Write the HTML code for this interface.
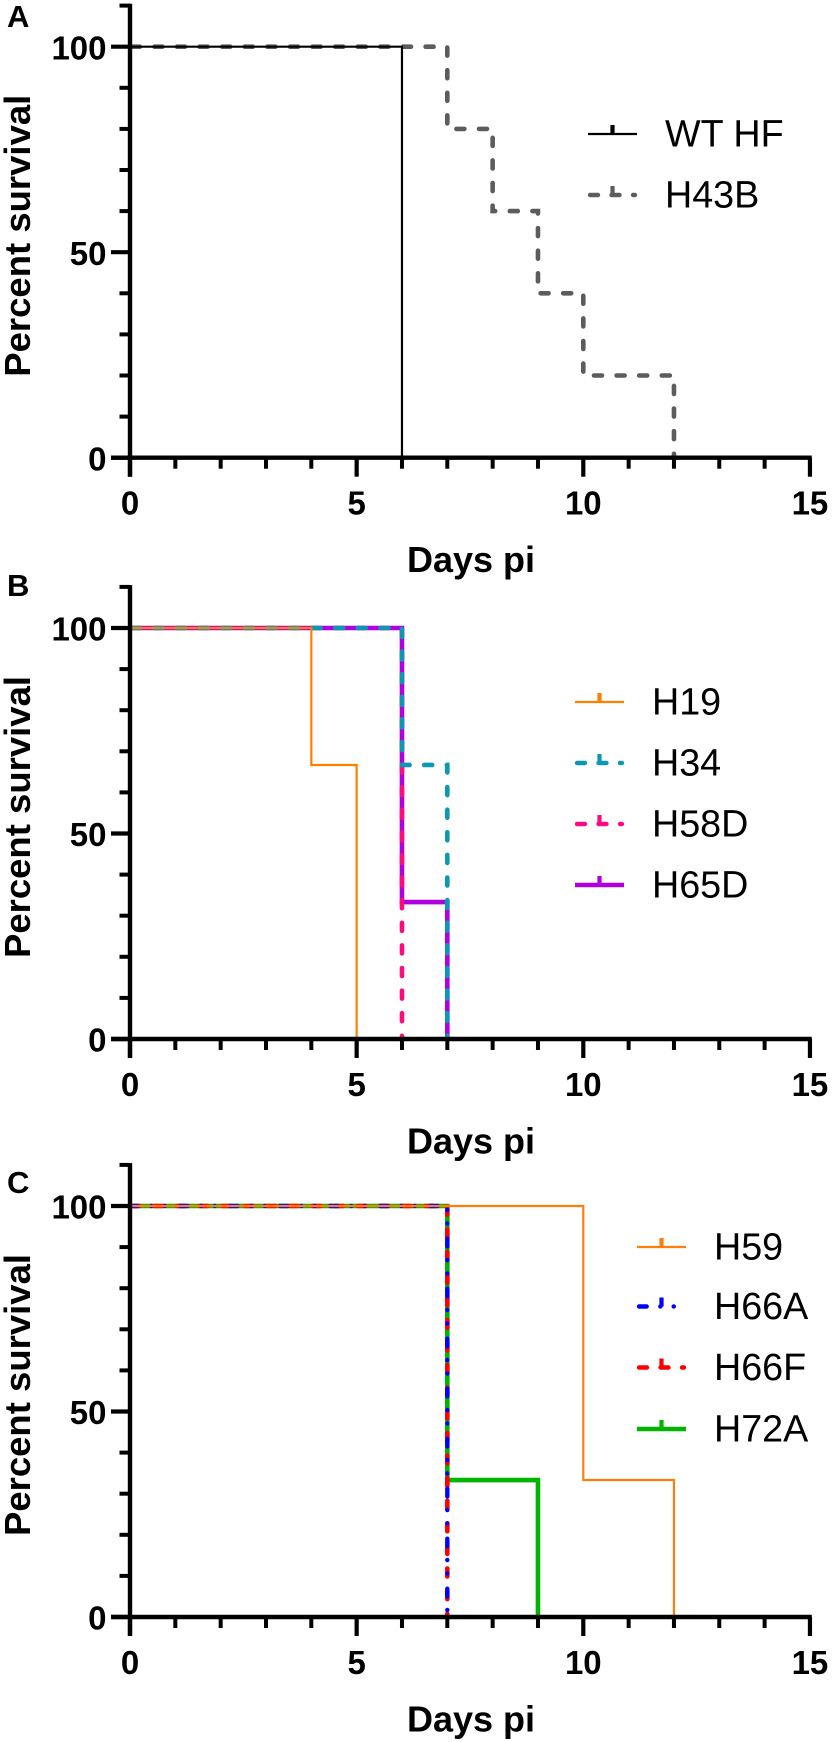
<!DOCTYPE html>
<html lang="en">
<head>
<meta charset="utf-8">
<title>Percent survival by days post infection</title>
<style>
html,body{margin:0;padding:0;background:#fff;}
svg{display:block;font-family:"Liberation Sans",Arial,sans-serif;}
</style>
</head>
<body>
<svg id="chart" xmlns="http://www.w3.org/2000/svg" width="832" height="1742" viewBox="0 0 832 1742"></svg>
<script>
// ---- Tick values and labels ----
const xMajorTicks = [0, 5, 10, 15];
const xMinorTicks = [1, 2, 3, 4, 6, 7, 8, 9, 11, 12, 13, 14];
const yMajorTicks = [0, 50, 100];
const yMinorTicks = [10, 20, 30, 40, 60, 70, 80, 90, 110];
const xAxisTitle = "Days pi";
const yAxisTitle = "Percent survival";

// ---- Panel A ----
const wtHfDays = [0, 6];
const wtHfSurvival = [100, 0];
const h43bDays = [0, 7, 8, 9, 10, 12];
const h43bSurvival = [100, 80, 60, 40, 20, 0];

// ---- Panel B ----
const h19Days = [0, 4, 5];
const h19Survival = [100, 66.67, 0];
const h34Days = [0, 6, 7];
const h34Survival = [100, 66.67, 0];
const h58dDays = [0, 6];
const h58dSurvival = [100, 0];
const h65dDays = [0, 6, 7];
const h65dSurvival = [100, 33.33, 0];

// ---- Panel C ----
const h59Days = [0, 10, 12];
const h59Survival = [100, 33.33, 0];
const h66aDays = [0, 7];
const h66aSurvival = [100, 0];
const h66fDays = [0, 7];
const h66fSurvival = [100, 0];
const h72aDays = [0, 7, 9];
const h72aSurvival = [100, 33.33, 0];

// ---- Line styles ----
const THIN = {w: 2.2, dash: null};
const THICK = {w: 4.6, dash: null};
const DASHED = {w: 4.6, dash: "8 14.6"};
const DASHDOT = {w: 4.4, dash: "7.7 13.6 0.1 13.3 0.1 15.2"};

const panels = [
  {
    id: "a", letter: "A", letterY: 27, y0: 457.7,
    legendX: 588, legendTextX: 665, legendY: [134, 195], legendStep: 0,
    series: [
      {name: "WT HF", days: wtHfDays, survival: wtHfSurvival, color: "#000000", style: THIN},
      {name: "H43B", days: h43bDays, survival: h43bSurvival, color: "#5c5c5c", style: DASHED}
    ]
  },
  {
    id: "b", letter: "B", letterY: 596, y0: 1039,
    legendX: 575, legendTextX: 652, legendY: [702, 763, 824, 885], legendStep: 0,
    series: [
      {name: "H19", days: h19Days, survival: h19Survival, color: "#ff8000", style: THIN},
      {name: "H34", days: h34Days, survival: h34Survival, color: "#0e97b3", style: DASHED},
      {name: "H58D", days: h58dDays, survival: h58dSurvival, color: "#ff0a80", style: DASHED},
      {name: "H65D", days: h65dDays, survival: h65dSurvival, color: "#b000e0", style: THICK}
    ]
  },
  {
    id: "c", letter: "C", letterY: 1193, y0: 1617,
    legendX: 637, legendTextX: 714, legendY: [1247, 1306.5, 1367.5, 1429], legendStep: 0,
    series: [
      {name: "H59", days: h59Days, survival: h59Survival, color: "#ff7f0e", style: THIN},
      {name: "H66A", days: h66aDays, survival: h66aSurvival, color: "#0000ff", style: DASHDOT},
      {name: "H66F", days: h66fDays, survival: h66fSurvival, color: "#ff0000", style: DASHED},
      {name: "H72A", days: h72aDays, survival: h72aSurvival, color: "#00b400", style: THICK}
    ]
  }
];

const NS = "http://www.w3.org/2000/svg";
const svg = document.getElementById("chart");
const X0 = 130;
const X_PER_DAY = 45.33;
const Y_PER_UNIT = 4.11;

function xScale(day) { return X0 + day * X_PER_DAY; }
function yScale(panel, value) { return panel.y0 - value * Y_PER_UNIT; }

function create(tag, parent, props) {
  const el = document.createElementNS(NS, tag);
  for (const k in props) el.setAttribute(k, props[k]);
  parent.appendChild(el);
  return el;
}

function stepPath(panel, days, survival) {
  let d = "M" + xScale(days[0]) + " " + yScale(panel, survival[0]);
  for (let i = 1; i < days.length; i++) {
    d += "H" + xScale(days[i]);
    d += "V" + yScale(panel, survival[i]);
  }
  return d;
}

panels.forEach(function (panel) {
  const g = create("g", svg, {});
  
  

  const letter = create("text", g, {x: 7, y: panel.letterY, "font-size": 31, "font-weight": "bold", fill: "#000"});
  letter.textContent = panel.letter;
  
  

  // Series: the first-listed series is painted last, on top
  const seriesGroup = create("g", g, {fill: "none"});
  
  
  panel.series.slice().reverse().forEach(function (s) {
    const p = create("path", seriesGroup, {
      d: stepPath(panel, s.days, s.survival),
      stroke: s.color,
      "stroke-width": s.style.w,
      "stroke-linejoin": "miter"
    });
    if (s.style.dash) {
      p.setAttribute("stroke-dasharray", s.style.dash);
      p.setAttribute("stroke-linecap", "round");
      p.setAttribute("stroke-dashoffset", s.style === DASHED ? -1.8 : 0);
    }
    
    
  });

  // Axes
  const axisGroup = create("g", g, {stroke: "#000", fill: "none"});
  
  

  const yAxis = create("line", axisGroup, {x1: X0, x2: X0, y1: yScale(panel, 110) - 1.8, y2: panel.y0 + 19, "stroke-width": 4.4});
  
  

  const xAxis = create("line", axisGroup, {x1: X0 - 19, x2: xScale(15) + 1.8, y1: panel.y0, y2: panel.y0, "stroke-width": 4.4});
  
  

  yMajorTicks.forEach(function (v) {
    const t = create("line", axisGroup, {x1: X0 - 19, x2: X0, y1: yScale(panel, v), y2: yScale(panel, v), "stroke-width": 4.2});
    
    
    const lab = create("text", g, {x: 106.5, y: yScale(panel, v) + 12.6, "text-anchor": "end", "font-size": 33, "font-weight": "bold", fill: "#000"});
    lab.textContent = String(v);
    
    
  });
  yMinorTicks.forEach(function (v) {
    const t = create("line", axisGroup, {x1: X0 - 10.5, x2: X0, y1: yScale(panel, v), y2: yScale(panel, v), "stroke-width": 4});
    
    
  });
  xMajorTicks.forEach(function (v) {
    const t = create("line", axisGroup, {x1: xScale(v), x2: xScale(v), y1: panel.y0, y2: panel.y0 + 19, "stroke-width": 4.2});
    
    
    const lab = create("text", g, {x: xScale(v), y: panel.y0 + 57, "text-anchor": "middle", "font-size": 33, "font-weight": "bold", fill: "#000"});
    lab.textContent = String(v);
    
    
  });
  xMinorTicks.forEach(function (v) {
    const t = create("line", axisGroup, {x1: xScale(v), x2: xScale(v), y1: panel.y0, y2: panel.y0 + 11, "stroke-width": 4});
    
    
  });

  // Axis titles
  const xTitle = create("text", g, {x: 471, y: panel.y0 + 114.5, "text-anchor": "middle", "font-size": 36, "font-weight": "bold", fill: "#000"});
  xTitle.textContent = xAxisTitle;
  
  

  const yCenter = panel.y0 - 222;
  const yTitle = create("text", g, {
    x: 0, y: 0, "text-anchor": "middle", "font-size": 36.5, "font-weight": "bold", fill: "#000",
    transform: "translate(30 " + yCenter + ") rotate(-90)"
  });
  yTitle.textContent = yAxisTitle;
  
  

  // Legend
  const legend = create("g", g, {});
  
  
  panel.series.forEach(function (s, i) {
    const ly = panel.legendY[i];
    const entry = create("g", legend, {});
    
    

    const sw = s.style.dash ? 4.4 : s.style.w;
    const inset = s.style.dash ? 2 : 0;
    const line = create("line", entry, {
      x1: panel.legendX + inset, x2: panel.legendX + 49 - inset, y1: ly, y2: ly,
      stroke: s.color, "stroke-width": sw
    });
    if (s.style === DASHED) {
      line.setAttribute("stroke-dasharray", "8 13.5");
      line.setAttribute("stroke-linecap", "round");
    } else if (s.style === DASHDOT) {
      line.setAttribute("stroke-dasharray", "7.7 13.6 0.1 13.3 0.1 15");
      line.setAttribute("stroke-linecap", "round");
    }
    
    

    const cx = panel.legendX + 24.5;
    const stub = create("line", entry, {x1: cx, x2: cx, y1: ly - 9, y2: ly, stroke: s.color, "stroke-width": 4.2});
    
    

    const label = create("text", entry, {x: panel.legendTextX, y: ly + 12.7, "font-size": 37.7, fill: "#000"});
    label.textContent = s.name;
    
    
  });
});
</script>
</body>
</html>
